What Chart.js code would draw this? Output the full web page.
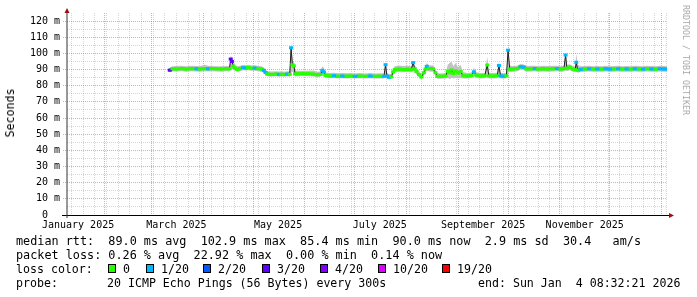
<!DOCTYPE html>
<html><head><meta charset="utf-8">
<script src="https://cdn.jsdelivr.net/npm/chart.js@4"></script>
<style>
html,body{margin:0;padding:0;background:#fff;}
#wrap{position:relative;width:697px;height:297px;overflow:hidden;background:#fff;}
canvas{position:absolute;left:0;top:0;}
.t{position:absolute;font-family:"DejaVu Sans Mono",monospace;white-space:pre;color:#000;line-height:14px;font-size:11.6px;}
.box{position:absolute;width:6px;height:7px;border:1px solid #000;top:264px;}
#ylab{position:absolute;left:10px;top:113px;transform:translate(-50%,-50%) rotate(-90deg);font-family:"DejaVu Sans Mono",monospace;font-size:11.6px;white-space:pre;}
#wm{position:absolute;left:686px;top:60px;transform:translate(-50%,-50%) rotate(90deg);font-family:"DejaVu Sans Mono",monospace;font-size:8.3px;color:#a8a8a8;white-space:pre;}
</style></head><body>
<div id="wrap">
<canvas id="c" width="697" height="297"></canvas>
<div id="ylab">Seconds</div>
<div id="wm">RRDTOOL / TOBI OETIKER</div>
<div class="t" style="left:16px;top:234px;font-size:11.8px">median rtt:  89.0 ms avg  102.9 ms max  85.4 ms min  90.0 ms now  2.9 ms sd  30.4   am/s</div>
<div class="t" style="left:16px;top:248px;font-size:11.8px">packet loss: 0.26 % avg  22.92 % max  0.00 % min  0.14 % now</div>
<div class="t" style="left:16px;top:262px">loss color:</div>
<div id="lossrow"></div>
<div class="t" style="left:16px;top:276px">probe:</div>
<div class="t" style="left:107px;top:276px">20 ICMP Echo Pings (56 Bytes) every 300s</div>
<div class="t" style="left:478px;top:276px">end: Sun Jan  4 08:32:21 2026</div>
</div>
<script>
// ---- data (x = days since 2025-01-01 00:00) ----
const days = [68.9,70.0,71.6,74,77,80,83,86,88,91,93,95,98,101,104,105.8,106.6,107.3,108.1,109,110.5,112,114,115.5,117,119,121,123,125,126.5,127.5,128.5,131,134,135.5,137,139,140.5,142,142.8,143.6,144.5,145.2,147,150,153,156,158.5,160.5,161.5,162.5,163.5,166,168.5,171,173.5,176,178.5,181,184,187,190,193,196,198.5,199.5,200.3,201.5,203,204,205,207.5,210,212.5,215,216,217,218,219.5,221,222.5,223.5,224.2,225.5,228,229.5,230.5,233,235.5,236.8,238,239,240.2,241.5,243,244.5,246,248.5,251,252.5,254,256.5,259,260.5,261.5,264,266.5,267.5,268.5,270.5,272,273,274,276,278.5,280.5,282.5,284,287,289,291,294,297,300,302.5,304.5,306.5,307.5,308.3,310,312,313.3,313.9,314.8,316.5,319,321.5,324,326.5,329,331.5,334,336.5,339,341.5,344,346.5,349,351.5,354,356.5,359,361.5,364,366.5,368.3];
const median = [89.7,89.6,90.5,90.4,90.6,90.3,90.6,90.5,90.4,90.6,90.5,90.6,90.5,90.4,90.6,90.5,96.5,95.0,92.2,91.0,90.0,90.6,91.2,91.0,91.3,90.8,90.9,90.6,90.3,89.5,88.2,87.2,87.0,87.2,87.0,87.1,87.0,87.2,87.0,103.5,93.0,92.3,87.3,87.4,87.5,87.4,87.2,86.8,87.0,89.5,88.5,86.4,86.0,86.2,85.9,86.0,85.9,86.0,85.8,86.0,85.8,86.0,85.8,85.9,85.8,93.0,86.0,85.3,85.5,88.5,90.0,90.3,90.0,90.2,90.0,94.3,90.5,88.8,86.8,85.4,88.0,90.3,92.0,90.6,90.5,88.0,85.8,85.8,86.0,89.0,88.0,89.7,87.5,89.2,87.8,88.8,86.2,86.0,86.3,88.6,86.5,86.0,86.1,92.8,86.0,86.0,86.2,92.5,86.0,85.9,86.2,102.0,90.2,90.4,90.6,91.8,91.5,90.4,90.5,90.6,90.3,90.5,90.4,90.5,90.6,90.3,90.5,99.0,90.8,91.5,90.3,90.0,94.5,89.5,90.2,90.4,90.5,90.3,90.4,90.3,90.5,90.3,90.4,90.5,90.3,90.4,90.3,90.5,90.4,90.3,90.5,90.4,90.3,90.5,90.4,90.3];
const loss = [-1,3,0,0,0,0,0,1,0,0,1,0,0,0,0,0,3,3,0,0,0,0,1,1,0,0,1,0,0,1,1,0,0,0,1,0,0,1,0,1,0,0,0,0,0,0,0,0,0,1,1,0,0,1,0,1,0,0,1,0,0,1,0,0,1,1,1,1,0,0,0,0,0,0,0,1,0,0,0,0,0,0,1,0,0,0,0,0,0,0,0,0,0,0,0,0,0,0,0,1,0,0,0,0,0,0,0,1,1,1,0,1,0,0,0,1,1,0,0,1,0,0,0,0,1,0,0,1,0,0,0,0,1,0,1,0,1,0,1,0,1,1,0,1,0,1,0,1,0,1,0,1,0,1,1,1];
const smokeLo = [89.2,88.5,88.8,88.8,88.9,88.7,89.0,88.8,88.7,88.9,88.8,88.9,88.8,88.7,88.9,88.8,90.0,90.5,89.8,89.4,88.6,89.0,89.5,89.4,89.6,89.2,89.2,89.0,88.7,88.0,86.8,85.8,85.6,85.8,85.6,85.7,85.6,85.8,85.6,88.0,88.5,88.0,85.8,85.9,86.0,85.9,85.7,85.4,85.6,86.5,86.0,85.0,84.6,84.8,84.5,84.6,84.5,84.6,84.4,84.6,84.4,84.6,84.4,84.5,84.4,86.0,84.5,84.0,84.1,86.5,88.3,88.5,88.3,88.5,88.3,89.0,88.6,87.0,85.2,84.0,86.0,88.5,89.5,88.8,88.7,86.3,84.3,84.3,84.5,85.0,84.0,85.0,84.5,85.0,84.5,85.0,84.5,84.5,84.7,86.0,84.8,84.5,84.6,86.0,84.5,84.5,84.6,86.0,84.5,84.4,84.6,88.0,88.5,88.7,88.9,90.0,89.8,88.7,88.8,88.9,88.6,88.8,88.7,88.8,88.9,88.6,88.8,89.5,89.0,89.6,88.6,88.3,89.0,88.0,88.5,88.7,88.8,88.6,88.7,88.6,88.8,88.6,88.7,88.8,88.6,88.7,88.6,88.8,88.7,88.6,88.8,88.7,88.6,88.8,88.7,88.6];
const smokeHi = [90.2,91.0,92.0,92.2,92.3,92.0,92.4,92.2,92.0,93.0,92.3,92.2,92.1,92.0,92.2,92.0,98.5,97.5,94.5,92.8,92.0,92.3,92.8,92.6,93.0,92.5,92.6,92.2,92.0,91.3,90.0,89.0,88.8,89.0,88.8,88.9,88.7,89.0,88.8,107.0,96.0,94.5,89.5,89.2,89.3,89.2,89.4,88.6,88.8,92.0,91.0,88.2,87.8,88.0,87.7,87.8,87.7,87.8,87.6,87.8,87.6,87.8,87.6,87.7,87.6,95.0,88.0,87.2,87.3,90.5,92.0,92.5,92.2,92.3,92.0,95.5,92.8,91.0,89.0,87.5,90.0,92.3,94.0,92.6,92.5,90.2,87.8,87.6,87.8,93.0,94.0,95.0,92.0,94.0,91.5,93.0,88.5,87.8,88.2,91.0,88.3,87.8,87.9,98.0,88.0,87.8,88.0,95.0,88.0,87.7,88.0,104.0,92.5,92.2,92.4,93.5,93.2,92.2,92.3,92.4,92.1,92.3,92.2,92.3,92.4,92.1,92.3,100.5,93.0,93.3,92.1,92.0,100.0,93.0,92.0,92.2,92.3,92.1,92.2,92.1,92.3,92.1,92.2,92.3,92.1,92.2,92.1,92.3,92.2,92.1,92.3,92.2,92.1,92.3,92.2,92.1];

// axis definitions
const xMin = 8.356, xMax = 368.356;           // Jan 9 2025 08:32 .. Jan 4 2026 08:32
const monthStarts = [31,59,90,120,151,181,212,243,273,304,334,365];
const firstSunday = 11;                        // Jan 12 2025
const xLabelDays = [15,74,135,196,258,319];
const xLabels = ['January 2025','March 2025','May 2025','July 2025','September 2025','November 2025'];
const yLabelValues = [0,10,20,30,40,50,60,70,80,90,100,110,120];
const yLabels = ['0  ','10 m','20 m','30 m','40 m','50 m','60 m','70 m','80 m','90 m','100 m','110 m','120 m'];

const lossSteps = [0,1,2,3,4,10,19];
const lossNames = ['0','1/20','2/20','3/20','4/20','10/20','19/20'];
const lossPalette = ['#26ff00','#00b8ff','#0059ff','#5e00ff','#7e00ff','#dd00ff','#ff0000'];

// ---- build ----
const colorOf = l => { const i = lossSteps.indexOf(l); return i < 0 ? 'rgba(0,0,0,0)' : lossPalette[i]; };
const pts = arr => days.map((d, i) => ({x: d, y: arr[i]}));

const weekDays = [];
for (let d = firstSunday; d < xMax; d += 7) if (!monthStarts.includes(d)) weekDays.push(d);
const gridDays = weekDays.concat(monthStarts.filter(d => d > xMin && d < xMax)).sort((a,b)=>a-b);
const yGrid = [];
for (let v = 0; v <= 120; v += 5) yGrid.push(v);

const GRAY = 'rgba(140,140,140,0.36)';
const RED = 'rgba(200,60,60,0.45)';

// loss legend row
const lossBoxX = [108,146,203,262,320,378,442];
const lossRow = document.getElementById('lossrow');
lossNames.forEach((n, i) => {
  const b = document.createElement('div'); b.className = 'box';
  b.style.left = lossBoxX[i] + 'px'; b.style.background = lossPalette[i];
  lossRow.appendChild(b);
  const t = document.createElement('div'); t.className = 't';
  t.style.left = (lossBoxX[i] + 15) + 'px'; t.style.top = '262px'; t.textContent = n;
  lossRow.appendChild(t);
});

const axesPlugin = {
  id: 'axesDecor',
  afterDraw(chart) {
    const {ctx, chartArea: a} = chart;
    ctx.save();
    ctx.strokeStyle = '#000'; ctx.lineWidth = 1;
    ctx.beginPath(); ctx.moveTo(a.left - 5, a.bottom + 0.5); ctx.lineTo(a.right + 3, a.bottom + 0.5); ctx.stroke();
    ctx.strokeStyle = '#333';
    ctx.beginPath(); ctx.moveTo(a.left, a.bottom + 3); ctx.lineTo(a.left, a.top - 1); ctx.stroke();
    ctx.fillStyle = '#9a1010';
    ctx.beginPath(); ctx.moveTo(a.left - 2.5, a.top); ctx.lineTo(a.left + 2.5, a.top); ctx.lineTo(a.left, a.top - 5); ctx.closePath(); ctx.fill();
    ctx.beginPath(); ctx.moveTo(a.right + 2, a.bottom - 2); ctx.lineTo(a.right + 2, a.bottom + 3); ctx.lineTo(a.right + 7, a.bottom + 0.5); ctx.closePath(); ctx.fill();
    ctx.restore();
  }
};

const monoFont = {family: "'DejaVu Sans Mono', monospace", size: 10};

new Chart(document.getElementById('c'), {
  type: 'line',
  data: {
    datasets: [
      {data: pts(smokeLo), borderWidth: 0, borderColor: 'rgba(0,0,0,0)', pointRadius: 0, fill: false, order: 5},
      {data: pts(smokeHi), borderWidth: 0, borderColor: 'rgba(0,0,0,0)', pointRadius: 0, fill: '-1', backgroundColor: '#c2c2c2', order: 4},
      {data: pts(median), borderColor: '#202020', borderWidth: 1, pointRadius: 0, fill: false, order: 3},
      {data: pts(median), borderWidth: 3, fill: false, order: 1,
        borderColor: '#26ff00',
        segment: {borderColor: c => Math.abs(c.p1.parsed.y - c.p0.parsed.y) > 1.3 ? 'rgba(0,0,0,0)' : colorOf(loss[c.p0DataIndex])},
        pointStyle: 'line', pointRadius: 2, pointBorderWidth: 3,
        pointBorderColor: loss.map(colorOf), pointBackgroundColor: loss.map(colorOf)}
    ]
  },
  options: {
    responsive: false, animation: false, devicePixelRatio: 1,
    layout: {padding: {left: 0, right: 30, top: 13, bottom: 62}},
    elements: {line: {tension: 0}},
    plugins: {legend: {display: false}, tooltip: {enabled: false}},
    scales: {
      x: {type: 'linear', min: xMin, max: xMax, position: 'bottom', weight: 0,
        afterBuildTicks: s => { s.ticks = gridDays.map(v => ({value: v})); },
        ticks: {display: false},
        grid: {color: c => monthStarts.includes(c.tick.value) ? RED : GRAY, drawTicks: false, lineWidth: 1},
        border: {display: false, dash: [1, 1]},
        afterFit: s => { s.height = 0; }},
      xl: {type: 'linear', min: xMin, max: xMax, position: 'bottom', weight: 1,
        afterBuildTicks: s => { s.ticks = xLabelDays.map(v => ({value: v})); },
        ticks: {autoSkip: false, maxRotation: 0, minRotation: 0, padding: 4, font: monoFont, color: '#000',
          callback: v => xLabels[xLabelDays.indexOf(v)]},
        grid: {display: false, drawTicks: false}, border: {display: false},
        afterFit: s => { s.height = 20; }},
      y: {type: 'linear', min: 0, max: 125,
        afterBuildTicks: s => { s.ticks = yGrid.map(v => ({value: v})); },
        ticks: {padding: 3, font: monoFont, color: '#000', autoSkip: false,
          callback: v => { const i = yLabelValues.indexOf(v); return i < 0 ? '' : yLabels[i]; }},
        grid: {color: c => c.tick.value % 10 === 0 ? RED : GRAY, lineWidth: 1, drawTicks: true, tickLength: 4,
          tickColor: c => c.tick.value % 10 === 0 ? RED : 'rgba(0,0,0,0)', tickBorderDash: [1, 1]},
        border: {display: false, dash: [1, 1]},
        afterFit: s => { s.width = 67; }}
    }
  },
  plugins: [axesPlugin]
});
</script>
</body></html>
